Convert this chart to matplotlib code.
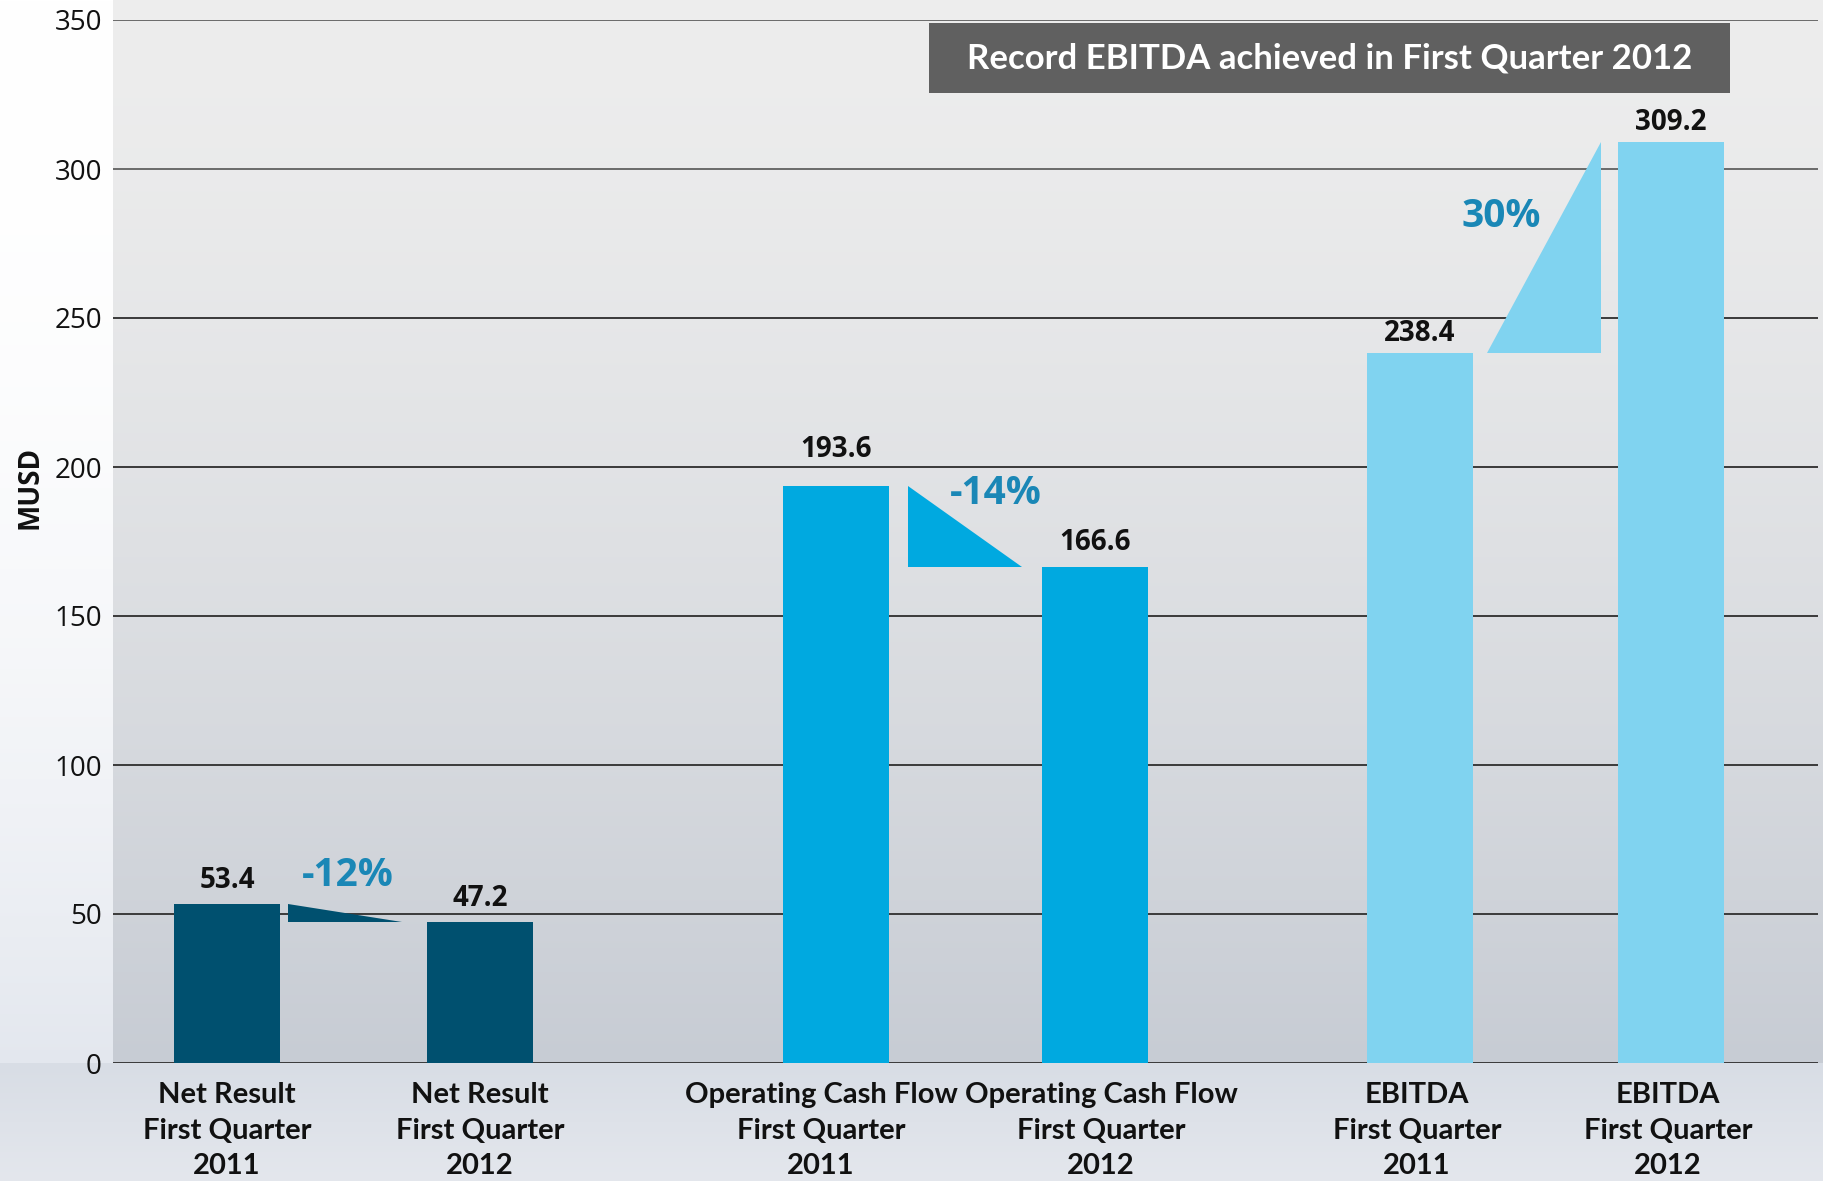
import numpy as np
import matplotlib
matplotlib.use("Agg")
import matplotlib.pyplot as plt
from matplotlib.patches import Polygon, Rectangle

# ---------------- data ----------------
categories = [
    "Net Result\nFirst Quarter\n2011",
    "Net Result\nFirst Quarter\n2012",
    "Operating Cash Flow\nFirst Quarter\n2011",
    "Operating Cash Flow\nFirst Quarter\n2012",
    "EBITDA\nFirst Quarter\n2011",
    "EBITDA\nFirst Quarter\n2012",
]
values = [53.4, 47.2, 193.6, 166.6, 238.4, 309.2]
value_labels = ["53.4", "47.2", "193.6", "166.6", "238.4", "309.2"]
changes = ["-12%", "-14%", "30%"]
yticks = [0, 50, 100, 150, 200, 250, 300, 350]
ylabel = "MUSD"
title = "Record EBITDA achieved in First Quarter 2012"

# ---------------- layout / style ----------------
positions = [114, 367, 723, 982, 1307, 1558]   # bar centres (x units = px inside axes)
label_dx = [0, 0, -15, 6, -3, -3]              # category label shift
bar_width = 106
bar_colors = ["#00506f", "#00506f", "#00a9e0", "#00a9e0", "#80d3f0", "#80d3f0"]
label_offset_pt = [17, 17, 26, 17, 14, 14]
tri_width = 114
tri_shift = [-8, 0, -1]
pct_dx = [-6, 30, -44]          # label x offset from gap centre
pct_dy = [9.4, -2.6, 45.6]      # label y offset from first bar value
pct_color = "#1a87b6"
narrow = ["Lato", "DejaVu Sans"]
regular = ["Open Sans", "DejaVu Sans"]

W, H = 1824, 1181
fig = plt.figure(figsize=(W / 100, H / 100), dpi=100)

# background gradient (decorative)
ax_l, ax_r, ax_t, ax_b = 113, 1818, 20, 1063
ys = np.arange(H)[:, None].astype(float)
top = np.array([237, 237, 237], float)
bot = np.array([199, 204, 212], float)
t = np.clip((ys - ax_t) / (ax_b - ax_t), 0, 1)[..., None]
img = top + (bot - top) * t ** 1.4
img = np.broadcast_to(img, (H, W, 3)).copy()
# left margin
tl = np.clip(ys / H, 0, 1)[..., None] ** 2.2
left = np.array([255, 255, 255], float) + (np.array([220, 225, 234], float) - 255) * tl
img[:, :ax_l, :] = np.broadcast_to(left, (H, ax_l, 3))
# below axes
below_top = np.array([216, 221, 229], float)
below_bot = np.array([228, 231, 237], float)
tb = np.clip((ys - ax_b) / (H - ax_b), 0, 1)[..., None]
below = below_top + (below_bot - below_top) * tb
img[ax_b:, :, :] = np.broadcast_to(below[ax_b:], (H - ax_b, W, 3))
bg = fig.add_axes([0, 0, 1, 1], zorder=-10)
bg.imshow(img.astype(np.uint8), aspect="auto", extent=(0, 1, 0, 1))
bg.axis("off")

ax = fig.add_axes([ax_l / W, (H - ax_b) / H, (ax_r - ax_l) / W, (ax_b - ax_t) / H])
ax.set_facecolor("none")
ax.set_xlim(0, ax_r - ax_l)
ax.set_ylim(0, 350)
for s in ax.spines.values():
    s.set_visible(False)

for yv in yticks:
    ax.axhline(yv, color="#6a6a6a" if yv >= 300 else "#3a3a3a", lw=1.4, zorder=1)

ax.bar(positions, values, width=bar_width, color=bar_colors, zorder=3)

for x, v, lab, off in zip(positions, values, value_labels, label_offset_pt):
    ax.annotate(lab, (x, v), xytext=(0, off), textcoords="offset points",
                ha="center", va="center", fontsize=20, fontweight="bold",
                family=regular, color="#111111", zorder=5)

# change triangles + percentage labels
for k in range(3):
    i, j = 2 * k, 2 * k + 1
    gl = positions[i] + bar_width / 2
    gr = positions[j] - bar_width / 2
    gc = (gl + gr) / 2 + tri_shift[k]
    x0, x1 = gc - tri_width / 2, gc + tri_width / 2
    v1, v2 = values[i], values[j]
    lo, hi = min(v1, v2), max(v1, v2)
    if v2 < v1:
        pts = [(x0, hi), (x0, lo), (x1, lo)]
    else:
        pts = [(x0, lo), (x1, lo), (x1, hi)]
    ax.add_patch(Polygon(pts, closed=True, color=bar_colors[i], lw=0, zorder=3))
    ax.text((gl + gr) / 2 + pct_dx[k], v1 + pct_dy[k], changes[k], ha="center", va="center",
            fontsize=28, fontweight="bold", family=regular, color=pct_color, zorder=5)

ax.set_yticks(yticks)
ax.set_yticklabels([str(v) for v in yticks], fontsize=20, family=regular, color="#111111")
ax.set_xticks([p + d for p, d in zip(positions, label_dx)])
ax.set_xticklabels(categories, fontsize=21, fontweight="bold", family=narrow,
                   linespacing=1.45, color="#111111")
ax.tick_params(axis="both", length=0)
ax.tick_params(axis="y", pad=8)
ax.tick_params(axis="x", pad=14)

fig.text(30 / W, 1 - 487 / H, ylabel, rotation=90, ha="center", va="center",
         fontsize=20, fontweight="bold", family=regular, color="#111111")

# title box
ax.add_patch(Rectangle((0.4786, 0.930), 0.4698, 0.067, transform=ax.transAxes,
                       color="#606060", lw=0, zorder=6))
ax.text(0.7135, 0.9635, title, transform=ax.transAxes, ha="center", va="center",
        fontsize=25, fontweight="bold", family=narrow, color="white", zorder=7)

fig.savefig("out.png", dpi=100)
